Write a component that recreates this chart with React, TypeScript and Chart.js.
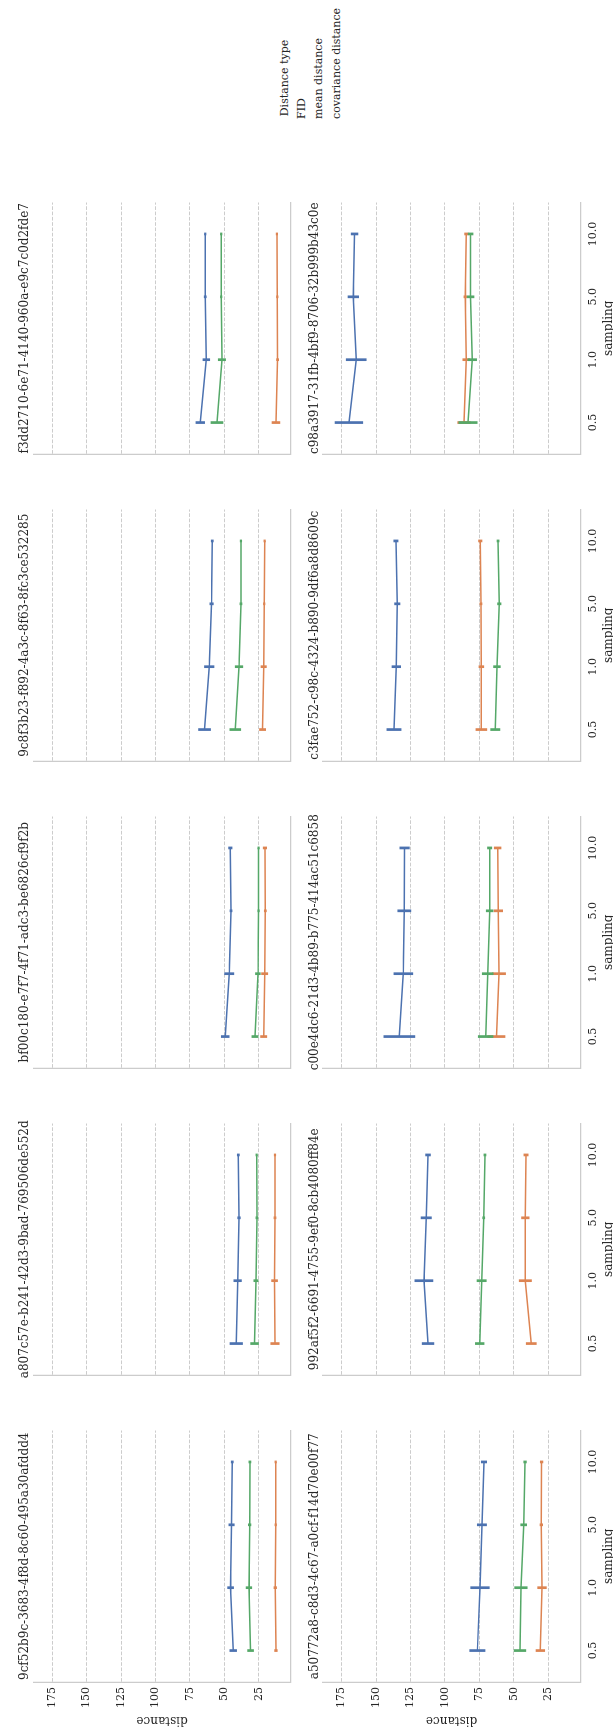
import React, { useEffect, useRef } from 'react';
import { Chart, registerables } from 'chart.js';

Chart.register(...registerables);

// ---- data -------------------------------------------------------------
const sampling = ['0.5', '1.0', '5.0', '10.0'];

const runIds = [
  '9cf52b9c-3683-4f8d-8c60-495a30afddd4',
  'a807c57e-b241-42d3-9bad-769506de552d',
  'bf00c180-e7f7-4f71-adc3-be6826cf9f2b',
  '9c8f3b23-f892-4a3c-8f63-8fc3ce532285',
  'f3dd2710-6e71-4140-960a-e9c7c0d2fde7',
  'a50772a8-c8d3-4c67-a0cf-f14d70e00f77',
  '992af5f2-6691-4755-9ef0-8cb4080ff84e',
  'c00e4dc6-21d3-4b89-b775-414ac51c6858',
  'c3fae752-c98c-4324-b890-9df6a8d8609c',
  'c98a3917-31fb-4bf9-8706-32b999b43c0e',
];

const distanceTypes = ['FID', 'mean distance', 'covariance distance'];

// mean value per run, one entry per sampling level
const fidMean = [
  [43.6, 45.5, 44.8, 44.3],
  [41.4, 40.4, 39.4, 39.9],
  [49.4, 46.5, 45.2, 45.7],
  [64.4, 61.0, 59.3, 58.8],
  [67.5, 63.1, 63.9, 63.9],
  [76.5, 74.6, 73.2, 71.7],
  [112.3, 115.3, 113.6, 112.3],
  [133.1, 130.2, 129.5, 129.3],
  [137.0, 135.3, 134.6, 135.6],
  [169.7, 164.4, 166.5, 165.6],
];
// half-width of the confidence interval
const fidCi = [
  [2.7, 2.4, 2.2, 1.0],
  [4.8, 3.0, 1.2, 1.0],
  [3.1, 3.6, 1.0, 1.5],
  [4.6, 3.7, 1.5, 1.0],
  [3.4, 2.7, 1.0, 0.8],
  [5.8, 7.0, 3.6, 2.2],
  [4.5, 6.8, 4.0, 2.0],
  [11.5, 7.1, 5.0, 3.7],
  [5.4, 3.4, 2.2, 1.8],
  [10.3, 7.5, 4.1, 2.7],
];

const meanDistMean = [
  [12.6, 13.1, 12.8, 12.8],
  [13.3, 13.6, 13.3, 13.3],
  [21.5, 20.8, 20.3, 20.6],
  [22.3, 21.5, 21.1, 20.8],
  [12.6, 11.4, 11.6, 11.9],
  [30.8, 29.6, 30.1, 29.9],
  [37.4, 41.7, 41.7, 41.2],
  [62.7, 60.8, 61.3, 61.8],
  [73.6, 73.6, 73.9, 74.4],
  [86.2, 84.5, 85.3, 84.5],
];
const meanDistCi = [
  [1.2, 1.2, 0.8, 0.8],
  [3.3, 2.4, 1.0, 0.8],
  [2.5, 2.5, 1.0, 1.5],
  [2.5, 2.2, 0.8, 0.8],
  [3.1, 1.0, 0.8, 0.8],
  [3.4, 3.4, 1.2, 1.2],
  [3.9, 4.7, 3.0, 1.8],
  [6.5, 5.0, 3.4, 2.7],
  [4.2, 2.0, 1.0, 1.5],
  [4.8, 2.8, 1.2, 1.5],
];

const covDistMean = [
  [31.0, 32.2, 31.7, 31.5],
  [28.1, 27.1, 26.4, 26.6],
  [27.8, 25.7, 25.2, 25.2],
  [42.1, 39.4, 38.0, 38.0],
  [55.4, 51.8, 52.3, 52.3],
  [45.6, 44.9, 42.9, 41.9],
  [74.8, 73.4, 71.9, 71.0],
  [70.5, 69.0, 67.6, 67.6],
  [63.5, 62.3, 60.6, 61.5],
  [83.3, 80.2, 81.4, 81.4],
];
const covDistCi = [
  [2.4, 2.3, 1.2, 1.0],
  [3.1, 1.8, 1.0, 0.8],
  [2.5, 2.0, 0.8, 0.8],
  [4.2, 3.0, 1.0, 0.8],
  [4.6, 2.9, 0.8, 0.8],
  [4.5, 4.8, 2.4, 1.2],
  [3.4, 3.6, 1.0, 1.0],
  [5.6, 4.2, 2.7, 1.8],
  [3.6, 2.7, 1.5, 1.0],
  [6.9, 3.4, 2.7, 2.0],
];

const distanceTicks = [25, 50, 75, 100, 125, 150, 175];
const distanceMin = 1.9;
const distanceMax = 188.5;

// ---- styling / layout -------------------------------------------------
const FIG_W = 1730;
const FIG_H = 613;
const COL_STEP = 307;
const Y_AXIS_W = 48;
const AX_W = 251.5;
const AX_H = 257.2;
const CANVAS_W = 320;
const ROWS = [
  { canvasTop: 0, canvasH: 310, padTop: 33.5 },
  { canvasTop: 290, canvasH: 340, padTop: 33 },
];
const TEXT = '#262626';
const SPINE = '#cccccc';
const FONT = '"DejaVu Serif", serif';
const palette = ['#4c72b0', '#dd8452', '#55a868'];

Chart.defaults.font.family = FONT;
Chart.defaults.color = TEXT;

// vertical confidence-interval bars at every point
const ciBars = {
  id: 'ciBars',
  afterDatasetsDraw(chart: any) {
    const { ctx } = chart;
    const yScale = chart.scales.y;
    chart.data.datasets.forEach((ds: any, d: number) => {
      const meta = chart.getDatasetMeta(d);
      ctx.save();
      ctx.strokeStyle = ds.borderColor;
      ctx.lineWidth = 2.7;
      ctx.lineCap = 'butt';
      meta.data.forEach((pt: any, i: number) => {
        const lo = yScale.getPixelForValue(ds.data[i] - ds.ci[i]);
        const hi = yScale.getPixelForValue(ds.data[i] + ds.ci[i]);
        ctx.beginPath();
        ctx.moveTo(pt.x, lo);
        ctx.lineTo(pt.x, hi);
        ctx.stroke();
      });
      ctx.restore();
    });
  },
};

// run id written above each panel
const panelTitle = {
  id: 'panelTitle',
  afterDraw(chart: any, _args: any, opts: any) {
    const { ctx, chartArea } = chart;
    ctx.save();
    ctx.font = `12px ${FONT}`;
    ctx.fillStyle = TEXT;
    ctx.textAlign = 'center';
    ctx.textBaseline = 'alphabetic';
    ctx.fillText(opts.text, (chartArea.left + chartArea.right) / 2, chartArea.top - 5.5);
    ctx.restore();
  },
};

function Panel({ run, row, col }: { run: number; row: number; col: number }) {
  const ref = useRef<HTMLCanvasElement | null>(null);
  const spec = ROWS[row];

  useEffect(() => {
    if (!ref.current) return;
    const means = [fidMean[run], meanDistMean[run], covDistMean[run]];
    const cis = [fidCi[run], meanDistCi[run], covDistCi[run]];
    const isBottom = row === 1;
    const isLeft = col === 0;
    const xAxisH = spec.canvasH - spec.padTop - AX_H;

    const chart = new Chart(ref.current, {
      type: 'line',
      data: {
        labels: sampling,
        datasets: distanceTypes.map((name, k) => ({
          label: name,
          data: means[k],
          ci: cis[k],
          borderColor: palette[k],
          backgroundColor: palette[k],
          borderWidth: 1.5,
          pointRadius: 0,
          pointHoverRadius: 0,
          tension: 0,
          fill: false,
        })) as any,
      },
      options: {
        animation: false,
        responsive: false,
        events: [],
        layout: { padding: { top: spec.padTop, left: 0, right: CANVAS_W - Y_AXIS_W - AX_W, bottom: 0 } },
        plugins: {
          legend: { display: false },
          tooltip: { enabled: false },
          panelTitle: { text: runIds[run] },
        } as any,
        scales: {
          x: {
            type: 'category',
            offset: true,
            grid: { display: false, drawTicks: false },
            border: { display: true, color: SPINE, width: 1.25 },
            ticks: {
              display: isBottom,
              padding: 6.2,
              maxRotation: 0,
              autoSkip: false,
              color: TEXT,
              font: { size: 11, family: FONT },
            },
            title: {
              display: isBottom,
              text: 'sampling',
              color: TEXT,
              font: { size: 12, family: FONT },
              padding: { top: 0, bottom: 13.8 },
            },
            afterFit: (scale: any) => {
              scale.height = xAxisH;
            },
          },
          y: {
            type: 'linear',
            min: distanceMin,
            max: distanceMax,
            afterBuildTicks: (scale: any) => {
              scale.ticks = distanceTicks.map((v) => ({ value: v }));
            },
            grid: { display: true, color: SPINE, lineWidth: 1, drawTicks: false },
            border: { display: true, color: SPINE, width: 1.25, dash: [3.7, 1.6] },
            ticks: {
              display: isLeft,
              padding: 5,
              color: TEXT,
              font: { size: 11, family: FONT },
              callback: (v: any) => String(v),
            },
            title: {
              display: isLeft,
              text: 'distance',
              color: TEXT,
              font: { size: 12, family: FONT },
              padding: { top: 2.8, bottom: 0 },
            },
            afterFit: (scale: any) => {
              scale.width = Y_AXIS_W;
            },
          },
        } as any,
      },
      plugins: [ciBars, panelTitle],
    });
    return () => chart.destroy();
  }, [run, row, col]);

  return (
    <canvas
      ref={ref}
      width={CANVAS_W}
      height={spec.canvasH}
      style={{ position: 'absolute', left: col * COL_STEP, top: spec.canvasTop }}
    />
  );
}

const legendText: React.CSSProperties = {
  position: 'absolute',
  fontFamily: FONT,
  fontSize: 11,
  lineHeight: '13px',
  color: TEXT,
  whiteSpace: 'nowrap',
};

export default function App() {
  return (
    <div style={{ position: 'absolute', left: 0, top: 0, width: FIG_H, height: FIG_W, overflow: 'hidden', background: '#fff' }}>
      <div
        style={{
          position: 'absolute',
          left: 0,
          top: 0,
          width: FIG_W,
          height: FIG_H,
          overflow: 'hidden',
          background: '#fff',
          transformOrigin: '0 0',
          transform: `translateY(${FIG_W}px) rotate(-90deg)`,
        }}
      >
        {runIds.map((_, i) => (
          <Panel key={i} run={i} row={Math.floor(i / 5)} col={i % 5} />
        ))}
        <div style={{ ...legendText, left: 1652, top: 277.5, transform: 'translateX(-50%)' }}>Distance type</div>
        {distanceTypes.map((name, k) => (
          <div key={name} style={{ ...legendText, left: 1611, top: 294.5 + k * 17.7 }}>
            {name}
          </div>
        ))}
      </div>
    </div>
  );
}
